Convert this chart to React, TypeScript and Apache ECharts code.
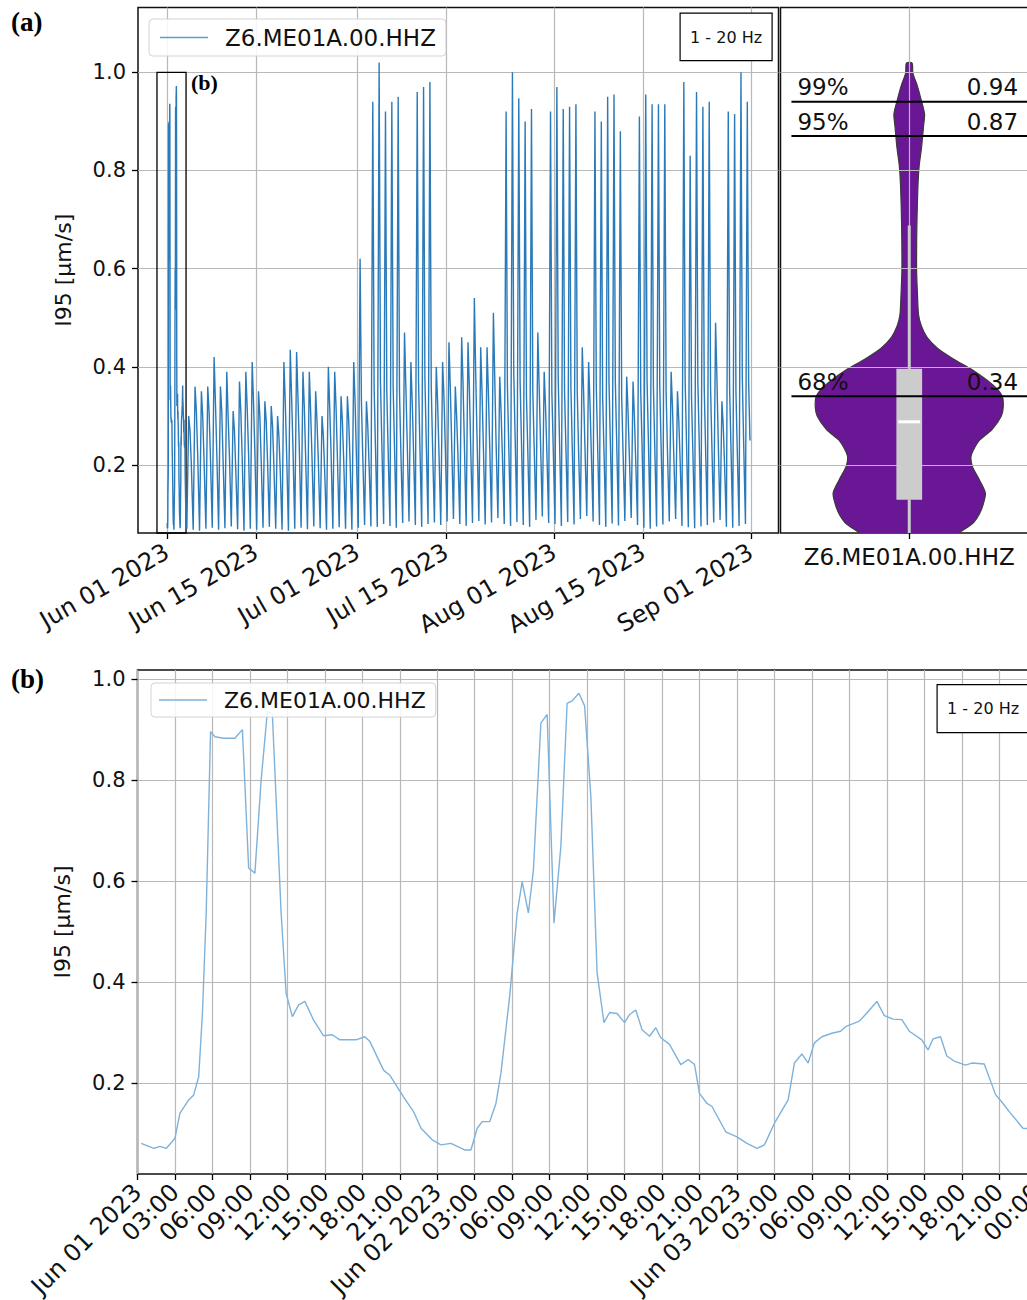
import React, { useEffect, useRef } from 'react';
import * as echarts from 'echarts';

const seriesName = 'Z6.ME01A.00.HHZ';
const bandLabel = '1 - 20 Hz';

// ---- panel (b): detailed series, hours since 2023-06-01 00:00 ----
const detailHours = [0.3, 0.9, 1.3, 1.8, 2.3, 3.0, 3.4, 4.1, 4.5, 4.9, 5.2, 5.5, 5.85, 6.2, 6.9, 7.8, 8.4, 8.9, 9.4, 9.9, 10.4, 10.8, 11.5, 11.9, 12.4, 12.9, 13.4, 14.1, 14.9, 15.6, 16.2, 17.5, 18.2, 18.6, 19.7, 20.2, 21.3, 22.1, 22.7, 23.6, 24.3, 25.1, 25.6, 26.2, 26.7, 27.2, 27.6, 28.2, 28.7, 29.1, 29.8, 30.4, 30.8, 31.3, 31.7, 32.3, 32.8, 33.35, 33.9, 34.4, 34.8, 35.35, 35.8, 36.3, 36.8, 37.35, 37.8, 38.4, 39.0, 39.4, 39.9, 40.4, 41.0, 41.5, 41.9, 42.6, 43.5, 44.1, 44.6, 45.0, 45.6, 46.0, 47.1, 48.0, 48.8, 49.6, 50.2, 51.0, 52.1, 52.6, 53.2, 53.7, 54.2, 54.8, 55.6, 56.3, 56.7, 57.8, 58.4, 59.2, 59.8, 60.5, 61.2, 61.8, 62.8, 63.3, 63.7, 64.3, 64.8, 65.4, 66.3, 66.8, 67.8, 68.7, 69.3, 69.9, 70.9, 71.5];
const detailValues = [0.081, 0.075, 0.071, 0.075, 0.071, 0.091, 0.141, 0.167, 0.177, 0.213, 0.339, 0.537, 0.896, 0.886, 0.883, 0.883, 0.900, 0.626, 0.616, 0.800, 0.936, 0.930, 0.537, 0.378, 0.332, 0.355, 0.362, 0.325, 0.294, 0.296, 0.286, 0.286, 0.292, 0.283, 0.226, 0.216, 0.173, 0.144, 0.111, 0.088, 0.078, 0.081, 0.075, 0.068, 0.068, 0.111, 0.124, 0.124, 0.160, 0.220, 0.372, 0.537, 0.599, 0.537, 0.622, 0.913, 0.930, 0.517, 0.669, 0.952, 0.957, 0.972, 0.947, 0.768, 0.419, 0.320, 0.340, 0.338, 0.320, 0.336, 0.345, 0.306, 0.293, 0.310, 0.290, 0.277, 0.237, 0.247, 0.237, 0.180, 0.160, 0.154, 0.104, 0.094, 0.081, 0.071, 0.078, 0.121, 0.167, 0.240, 0.258, 0.240, 0.280, 0.292, 0.299, 0.303, 0.312, 0.323, 0.339, 0.362, 0.334, 0.327, 0.326, 0.303, 0.286, 0.266, 0.288, 0.292, 0.254, 0.244, 0.236, 0.240, 0.238, 0.178, 0.160, 0.141, 0.111, 0.110];

// ---- panel (a): daily readings from Jun 04 (day 3) to Aug 31 (day 91) ----
const dailyStartDay = 3;
const dailyHours = [3, 10, 15, 20];
const dailyLow = [0.070, 0.068, 0.066, 0.070, 0.072, 0.068, 0.071, 0.075, 0.069, 0.066, 0.070, 0.068, 0.072, 0.074, 0.070, 0.068, 0.066, 0.070, 0.072, 0.069, 0.075, 0.071, 0.068, 0.070, 0.073, 0.070, 0.068,
  0.072, 0.078, 0.075, 0.074, 0.080, 0.076, 0.072, 0.082, 0.085, 0.078, 0.074, 0.080, 0.083, 0.078, 0.085, 0.090, 0.080, 0.076, 0.082, 0.086, 0.079, 0.083, 0.092, 0.080, 0.076, 0.084, 0.078, 0.074, 0.088, 0.095, 0.082,
  0.080, 0.076, 0.084, 0.079, 0.090, 0.096, 0.085, 0.078, 0.074, 0.081, 0.077, 0.086, 0.092, 0.078, 0.072, 0.070, 0.075, 0.079, 0.085, 0.090, 0.076, 0.073, 0.071, 0.075, 0.078, 0.083, 0.088, 0.074, 0.072, 0.076, 0.080];
const dailyPeak = [0.30, 0.36, 0.35, 0.36, 0.42, 0.36, 0.39, 0.31, 0.37, 0.39, 0.41, 0.35, 0.33, 0.32, 0.30, 0.41, 0.435, 0.43, 0.39, 0.39, 0.35, 0.30, 0.40, 0.39, 0.34, 0.34, 0.41,
  0.62, 0.33, 0.94, 1.02, 0.92, 0.94, 0.95, 0.47, 0.41, 0.96, 0.97, 0.98, 0.40, 0.41, 0.45, 0.36, 0.46, 0.45, 0.54, 0.44, 0.44, 0.51, 0.38, 0.92, 1.00, 0.947, 0.90, 0.925, 0.47, 0.39, 0.92,
  0.97, 0.925, 0.93, 0.935, 0.44, 0.41, 0.92, 0.90, 0.95, 0.955, 0.88, 0.38, 0.37, 0.91, 0.955, 0.935, 0.935, 0.935, 0.39, 0.35, 0.98, 0.83, 0.96, 0.93, 0.94, 0.49, 0.33, 0.92, 0.915, 1.00, 0.94];
const dailyAfternoon = [0.27, 0.31, 0.30, 0.31, 0.33, 0.31, 0.30, 0.27, 0.31, 0.32, 0.33, 0.30, 0.29, 0.28, 0.26, 0.33, 0.34, 0.34, 0.32, 0.31, 0.29, 0.26, 0.32, 0.32, 0.29, 0.29, 0.33,
  0.33, 0.28, 0.36, 0.37, 0.35, 0.36, 0.35, 0.36, 0.33, 0.37, 0.38, 0.36, 0.33, 0.34, 0.36, 0.30, 0.37, 0.36, 0.39, 0.35, 0.35, 0.38, 0.31, 0.36, 0.39, 0.37, 0.34, 0.35, 0.36, 0.32, 0.35,
  0.38, 0.35, 0.36, 0.35, 0.35, 0.33, 0.36, 0.34, 0.37, 0.37, 0.34, 0.31, 0.30, 0.35, 0.37, 0.36, 0.36, 0.35, 0.32, 0.29, 0.37, 0.34, 0.37, 0.36, 0.36, 0.38, 0.28, 0.36, 0.35, 0.38, 0.37];
const dailyEvening = [0.20, 0.22, 0.21, 0.22, 0.23, 0.21, 0.22, 0.19, 0.22, 0.23, 0.23, 0.21, 0.21, 0.20, 0.19, 0.23, 0.24, 0.24, 0.22, 0.22, 0.21, 0.19, 0.23, 0.22, 0.21, 0.21, 0.22,
  0.22, 0.20, 0.24, 0.25, 0.23, 0.24, 0.23, 0.25, 0.23, 0.24, 0.25, 0.24, 0.23, 0.24, 0.25, 0.22, 0.25, 0.24, 0.26, 0.24, 0.24, 0.25, 0.22, 0.24, 0.26, 0.25, 0.23, 0.24, 0.25, 0.23, 0.24,
  0.25, 0.24, 0.24, 0.23, 0.24, 0.23, 0.24, 0.23, 0.25, 0.25, 0.23, 0.22, 0.21, 0.24, 0.25, 0.24, 0.24, 0.23, 0.22, 0.21, 0.25, 0.23, 0.25, 0.24, 0.24, 0.25, 0.20, 0.24, 0.23, 0.25, 0.25];

// ---- axes ----
const topTickDays = [0, 14, 30, 44, 61, 75, 92];
const topTickLabels = ['Jun 01 2023', 'Jun 15 2023', 'Jul 01 2023', 'Jul 15 2023', 'Aug 01 2023', 'Aug 15 2023', 'Sep 01 2023'];
const topDayMin = -4.57;
const topDayMax = 96.33;
const topYMin = 0.0615;
const topYMax = 1.132;
const yTicks = [0.2, 0.4, 0.6, 0.8, 1.0];
const zoomBoxDays = [-1.58, 3.0];
const zoomBoxTop = 1.0;
const bottomDayNames = ['Jun 01 2023', 'Jun 02 2023', 'Jun 03 2023'];
const bottomHourMax = 72;
const bottomYMin = 0.0204;
const bottomYMax = 1.018;

// ---- violin ----
const violinLevels = [0.040, 0.063, 0.080, 0.100, 0.120, 0.143, 0.170, 0.198, 0.220, 0.250, 0.272, 0.300, 0.318, 0.340, 0.363, 0.394, 0.416, 0.438, 0.460, 0.484, 0.506, 0.545, 0.600, 0.696, 0.771, 0.810, 0.847, 0.890, 0.915, 0.946, 0.975, 0.998, 1.019];
const violinDensity = [0.42, 0.54, 0.67, 0.745, 0.787, 0.81, 0.745, 0.67, 0.66, 0.745, 0.88, 0.98, 1.0, 0.99, 0.89, 0.67, 0.47, 0.30, 0.19, 0.128, 0.099, 0.088, 0.078, 0.082, 0.093, 0.106, 0.131, 0.152, 0.163, 0.124, 0.082, 0.039, 0.03];
const boxQ1 = 0.129;
const boxMedian = 0.288;
const boxQ3 = 0.396;
const whiskerLow = 0.03;
const whiskerHigh = 0.688;
const percentileLabels = ['99%', '95%', '68%'];
const percentileValues = [0.94, 0.87, 0.34];

const FONT = 'DejaVu Sans';

function buildTopData() {
  const out: number[][] = [];
  detailHours.forEach((h, i) => out.push([h / 24, detailValues[i]]));
  for (let i = 0; i < dailyPeak.length; i++) {
    const d = dailyStartDay + i;
    const vals = [dailyLow[i], dailyPeak[i], dailyAfternoon[i], dailyEvening[i]];
    dailyHours.forEach((h, k) => out.push([d + h / 24, vals[k]]));
  }
  return out;
}

export default function App() {
  const ref = useRef<HTMLDivElement>(null);
  useEffect(() => {
    document.body.style.margin = '0';
    const chart = echarts.init(ref.current!, null, { renderer: 'svg', width: 1027, height: 1300 });
    const gridLine = { show: true, lineStyle: { color: '#b8b8b8', width: 1.2 } };
    const tickStyle = { color: '#000', width: 1.3 };
    const violinHalfMax = 0.73;
    const boxHalf = 0.1;
    const medianHalf = 0.085;
    const lineStartX = -0.915;
    const valueLabelX = 0.845;

    const option: any = {
      animation: false,
      backgroundColor: '#ffffff',
      textStyle: { fontFamily: FONT },
      grid: [
        { left: 138, top: 7.5, width: 640.5, height: 525.5, show: true, borderColor: '#111', borderWidth: 1.5, backgroundColor: 'transparent', containLabel: false, outerBoundsMode: 'none' },
        { left: 780.5, top: 7.5, width: 257.5, height: 525.5, show: true, borderColor: '#111', borderWidth: 1.5, backgroundColor: 'transparent', containLabel: false, outerBoundsMode: 'none' },
        { left: 137.5, top: 670, width: 899.2, height: 504, show: true, borderColor: '#111', borderWidth: 1.5, backgroundColor: 'transparent', containLabel: false, outerBoundsMode: 'none' },
      ],
      xAxis: [
        {
          gridIndex: 0, type: 'value', min: topDayMin, max: topDayMax,
          axisLine: { show: false, onZero: false },
          axisTick: { show: true, customValues: topTickDays, length: 6, lineStyle: tickStyle },
          axisLabel: {
            customValues: topTickDays, rotate: 30, fontSize: 24, color: '#111', margin: 17, fontFamily: FONT,
            formatter: (v: number) => { const i = topTickDays.indexOf(v); return i >= 0 ? topTickLabels[i] : ''; },
          },
          splitLine: gridLine,
        },
        {
          gridIndex: 1, type: 'value', min: -1, max: 1, z: 1.5,
          axisLine: { show: false, onZero: false },
          axisTick: { show: true, customValues: [0], length: 6, lineStyle: tickStyle },
          axisLabel: { customValues: [0], fontSize: 23, color: '#111', margin: 12, fontFamily: FONT, formatter: () => seriesName },
          splitLine: gridLine,
        },
        {
          gridIndex: 2, type: 'value', min: 0, max: bottomHourMax, interval: 3,
          axisLine: { show: false, onZero: false },
          axisTick: { show: true, length: 6, lineStyle: tickStyle },
          axisLabel: {
            rotate: 45, fontSize: 24, color: '#111', margin: 14, fontFamily: FONT,
            formatter: (v: number) => {
              const h = Math.round(v);
              if (h % 24 === 0 && h / 24 < bottomDayNames.length) return bottomDayNames[h / 24];
              return String(h % 24).padStart(2, '0') + ':00';
            },
          },
          splitLine: gridLine,
        },
      ],
      yAxis: [
        {
          gridIndex: 0, type: 'value', min: topYMin, max: topYMax,
          axisLine: { show: false, onZero: false },
          axisTick: { show: true, customValues: yTicks, length: 6, lineStyle: tickStyle },
          axisLabel: { customValues: yTicks, fontSize: 21, color: '#111', margin: 12, fontFamily: FONT, formatter: (v: number) => v.toFixed(1) },
          splitLine: gridLine,
          name: 'I95 [μm/s]', nameLocation: 'middle', nameGap: 64, nameMoveOverlap: false,
          nameTextStyle: { fontSize: 22, color: '#111', fontFamily: FONT },
        },
        {
          gridIndex: 1, type: 'value', min: topYMin, max: topYMax, z: 1.5,
          axisLine: { show: false, onZero: false },
          axisTick: { show: false, customValues: yTicks },
          axisLabel: { show: false, customValues: yTicks },
          splitLine: gridLine,
        },
        {
          gridIndex: 2, type: 'value', min: bottomYMin, max: bottomYMax,
          axisLine: { show: false, onZero: false },
          axisTick: { show: true, customValues: yTicks, length: 6, lineStyle: tickStyle },
          axisLabel: { customValues: yTicks, fontSize: 21, color: '#111', margin: 12, fontFamily: FONT, formatter: (v: number) => v.toFixed(1) },
          splitLine: gridLine,
          name: 'I95 [μm/s]', nameLocation: 'middle', nameGap: 64, nameMoveOverlap: false,
          nameTextStyle: { fontSize: 22, color: '#111', fontFamily: FONT },
        },
      ],
      legend: [
        {
          data: [{ name: seriesName, icon: 'rect' }], left: 149, top: 19, selectedMode: false, z: 10,
          itemWidth: 48, itemHeight: 1.5, padding: [7, 10, 7, 11],
          backgroundColor: 'rgba(255,255,255,0.85)', borderColor: '#d4d4d4', borderWidth: 1, borderRadius: 4,
          itemStyle: { color: '#5b9ed3', borderWidth: 0 },
          textStyle: { fontSize: 23, color: '#111', fontFamily: FONT, padding: [0, 0, 0, 12] },
        },
        {
          data: [{ name: seriesName, icon: 'rect' }], left: 151, top: 683, selectedMode: false, z: 10,
          itemWidth: 48, itemHeight: 1.5, padding: [6, 10, 6, 8],
          backgroundColor: 'rgba(255,255,255,0.85)', borderColor: '#d4d4d4', borderWidth: 1, borderRadius: 4,
          itemStyle: { color: '#7fb2da', borderWidth: 0 },
          textStyle: { fontSize: 22, color: '#111', fontFamily: FONT, padding: [0, 0, 0, 12] },
        },
      ],
      series: [
        {
          type: 'line', name: seriesName, xAxisIndex: 0, yAxisIndex: 0, data: buildTopData(),
          symbol: 'none', showSymbol: false, clip: true,
          lineStyle: { color: '#2a7ab9', width: 1.4 }, itemStyle: { color: '#2a7ab9' },
          markArea: {
            silent: true,
            itemStyle: { color: 'rgba(0,0,0,0)', borderColor: '#000', borderWidth: 1.3 },
            data: [[{ coord: [zoomBoxDays[0], zoomBoxTop] }, { coord: [zoomBoxDays[1], topYMin] }]],
          },
        },
        {
          type: 'custom', name: 'violin', xAxisIndex: 1, yAxisIndex: 1, z: 1, clip: true, silent: true,
          data: [[0, boxMedian]],
          renderItem: (params: any, api: any) => {
            const right = violinLevels.map((v, i) => api.coord([violinDensity[i] * violinHalfMax, v]));
            const left = violinLevels.map((v, i) => api.coord([-violinDensity[i] * violinHalfMax, v])).reverse();
            return {
              type: 'polygon',
              shape: { points: right.concat(left), smooth: 0.25 },
              style: { fill: '#6a1796', stroke: '#3a3a3a', lineWidth: 1.2 },
            };
          },
        },
        {
          type: 'custom', name: 'box', xAxisIndex: 1, yAxisIndex: 1, z: 3, clip: true, silent: true,
          data: [[0, boxMedian]],
          renderItem: (params: any, api: any) => {
            const wl = api.coord([0, whiskerLow]);
            const wh = api.coord([0, whiskerHigh]);
            const q1 = api.coord([0, boxQ1]);
            const q3 = api.coord([0, boxQ3]);
            const bl = api.coord([-boxHalf, boxQ3]);
            const br = api.coord([boxHalf, boxQ1]);
            const ml = api.coord([-medianHalf, boxMedian]);
            const mr = api.coord([medianHalf, boxMedian]);
            return {
              type: 'group',
              children: [
                { type: 'line', shape: { x1: wl[0], y1: wl[1], x2: q1[0], y2: q1[1] }, style: { stroke: '#cccccc', lineWidth: 3 } },
                { type: 'line', shape: { x1: q3[0], y1: q3[1], x2: wh[0], y2: wh[1] }, style: { stroke: '#cccccc', lineWidth: 3 } },
                { type: 'rect', shape: { x: bl[0], y: bl[1], width: br[0] - bl[0], height: br[1] - bl[1] }, style: { fill: '#cccccc' } },
                { type: 'line', shape: { x1: ml[0], y1: ml[1], x2: mr[0], y2: mr[1] }, style: { stroke: '#ffffff', lineWidth: 3 } },
              ],
            };
          },
        },
        {
          type: 'custom', name: 'percentiles', xAxisIndex: 1, yAxisIndex: 1, z: 4, clip: true, silent: true,
          data: percentileValues.map((p) => [0, p]),
          renderItem: (params: any, api: any) => {
            const i = params.dataIndex;
            const p = percentileValues[i];
            const a = api.coord([lineStartX, p]);
            const b = api.coord([1, p]);
            const r = api.coord([valueLabelX, p]);
            return {
              type: 'group',
              children: [
                { type: 'line', shape: { x1: a[0], y1: a[1], x2: b[0], y2: b[1] }, style: { stroke: '#000', lineWidth: 2 } },
                { type: 'text', x: a[0] + 6, y: a[1] - 3, style: { text: percentileLabels[i], fontSize: 23, fontFamily: FONT, fill: '#111', align: 'left', verticalAlign: 'bottom' } },
                { type: 'text', x: r[0], y: r[1] - 3, style: { text: p.toFixed(2), fontSize: 23, fontFamily: FONT, fill: '#111', align: 'right', verticalAlign: 'bottom' } },
              ],
            };
          },
        },
        {
          type: 'line', name: seriesName, xAxisIndex: 2, yAxisIndex: 2,
          data: detailHours.map((h, i) => [h, detailValues[i]]),
          symbol: 'none', showSymbol: false, clip: true,
          lineStyle: { color: '#7fb2da', width: 1.4 }, itemStyle: { color: '#7fb2da' },
        },
      ],
      graphic: [
        { type: 'text', left: 11, top: 8, z: 10, style: { text: '(a)', fontSize: 27, fontWeight: 'bold', fontFamily: 'Liberation Serif', fill: '#000' } },
        { type: 'text', left: 191, top: 71, z: 10, style: { text: '(b)', fontSize: 22, fontWeight: 'bold', fontFamily: 'Liberation Serif', fill: '#000' } },
        { type: 'text', left: 11, top: 665, z: 10, style: { text: '(b)', fontSize: 27, fontWeight: 'bold', fontFamily: 'Liberation Serif', fill: '#000' } },
        {
          type: 'group', left: 679.5, top: 12.5, z: 10, children: [
            { type: 'rect', z: 10, shape: { x: 0, y: 0, width: 92, height: 47.5 }, style: { fill: '#fff', stroke: '#000', lineWidth: 1.2 } },
            { type: 'text', z: 11, x: 46, y: 24, style: { text: bandLabel, fontSize: 16, fontFamily: FONT, fill: '#111', align: 'center', verticalAlign: 'middle' } },
          ],
        },
        {
          type: 'group', left: 936.5, top: 684, z: 10, children: [
            { type: 'rect', z: 10, shape: { x: 0, y: 0, width: 94, height: 48 }, style: { fill: '#fff', stroke: '#000', lineWidth: 1.2 } },
            { type: 'text', z: 11, x: 46, y: 24, style: { text: bandLabel, fontSize: 16, fontFamily: FONT, fill: '#111', align: 'center', verticalAlign: 'middle' } },
          ],
        },
      ],
    };
    chart.setOption(option);
    return () => chart.dispose();
  }, []);
  return <div ref={ref} style={{ width: 1027, height: 1300, overflow: 'hidden', background: '#fff' }} />;
}
